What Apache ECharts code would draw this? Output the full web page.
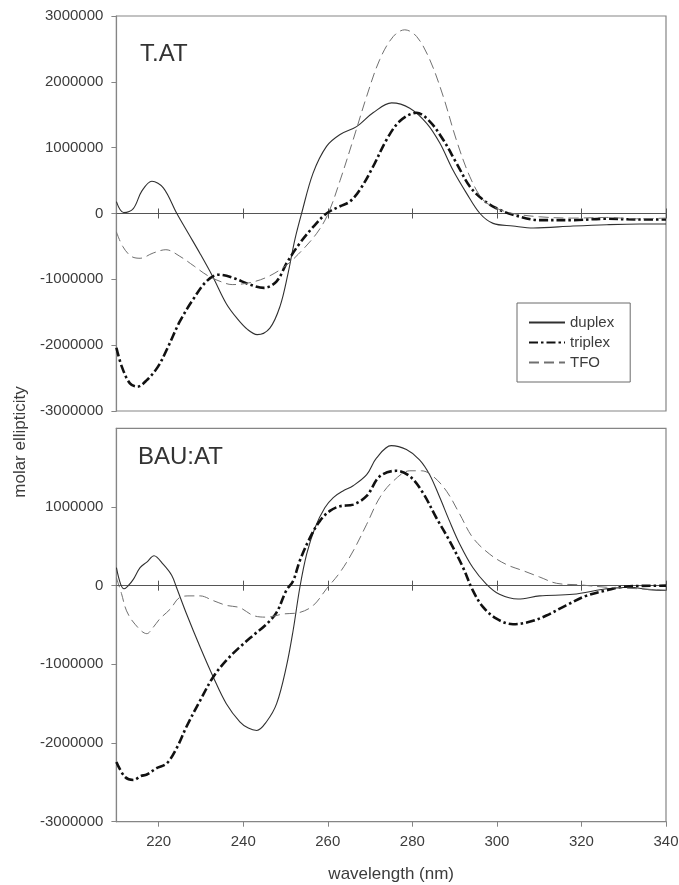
<!DOCTYPE html>
<html><head><meta charset="utf-8">
<script src="https://cdn.jsdelivr.net/npm/echarts@6/dist/echarts.min.js"></script>
<style>html,body{margin:0;padding:0;background:#fff}#c{width:679px;height:885px}</style>
</head><body><div id="c"></div>
<script>
// ---- data (wavelength nm, molar ellipticity) ----
const xTicks = [220, 240, 260, 280, 300, 320, 340];
const seriesNames = ['duplex', 'triplex', 'TFO'];
const panelTitles = ['T.AT', 'BAU:AT'];

const topDuplex = [[210,180000],[211.7,15000],[214,75000],[216,340000],[218.4,490000],[221.1,390000],[224.3,0],[227,-300000],[229.8,-610000],[232.8,-960000],[236,-1370000],[238.5,-1590000],[241,-1760000],[243.3,-1840000],[246.3,-1740000],[248.7,-1410000],[250.6,-910000],[252.2,-400000],[253.8,0],[256.5,610000],[259.7,1020000],[262.9,1200000],[266.8,1320000],[270.7,1530000],[275.1,1680000],[279.4,1600000],[283.4,1370000],[286.5,1070000],[289.6,660000],[292.8,310000],[296,0],[299.1,-150000],[303.8,-190000],[308.6,-220000],[318,-190000],[326,-170000],[333.8,-160000],[340,-160000]];
const topTriplex = [[210,-2040000],[211.3,-2330000],[213.2,-2580000],[215,-2630000],[217.2,-2530000],[219.8,-2330000],[221.9,-2070000],[225,-1640000],[228.2,-1300000],[231.3,-1030000],[234.1,-930000],[237.3,-970000],[241.6,-1080000],[244.9,-1130000],[247.9,-1030000],[250.3,-750000],[253.4,-450000],[256.6,-200000],[259.7,0],[262.9,110000],[265.2,180000],[267.6,360000],[270.7,710000],[273.9,1120000],[277,1400000],[281,1530000],[284.1,1400000],[287.3,1120000],[290.4,770000],[293.6,410000],[296.7,210000],[299.9,80000],[303.8,-20000],[310.1,-100000],[318,-100000],[325.9,-80000],[333,-90000],[340,-90000]];
const topTFO = [[210,-280000],[211.5,-500000],[213.5,-650000],[215.6,-680000],[218.7,-600000],[221.7,-550000],[225,-650000],[228.4,-800000],[231.5,-940000],[234.5,-1030000],[237.4,-1080000],[241.6,-1050000],[245.5,-970000],[249.5,-820000],[253,-620000],[257.4,-300000],[260.1,0],[262.9,500000],[266,1120000],[269.2,1780000],[272.3,2340000],[275.5,2690000],[278.2,2790000],[281,2690000],[284.1,2340000],[287.3,1780000],[290.4,1120000],[293.6,560000],[296.7,210000],[299.9,80000],[303.8,0],[310.1,-50000],[318,-70000],[326,-60000],[333,-80000],[340,-70000]];

const botDuplex = [[210,230000],[211,20000],[211.8,-40000],[212.8,0],[214,80000],[215.6,230000],[217.2,300000],[218.9,380000],[221.1,270000],[223.1,130000],[224.2,-20000],[226.6,-360000],[229.8,-780000],[232.9,-1160000],[236,-1500000],[239.2,-1730000],[241.2,-1810000],[243.2,-1840000],[245.5,-1730000],[247.9,-1500000],[250.2,-1030000],[251.8,-570000],[253.4,-20000],[255,400000],[257,740000],[259.3,990000],[261.3,1120000],[263.5,1200000],[266,1270000],[269.2,1410000],[271.5,1620000],[275,1780000],[278.6,1730000],[281.7,1600000],[284.1,1410000],[286.5,1120000],[288.8,820000],[291.2,530000],[294.3,230000],[297.5,20000],[300.6,-110000],[305,-170000],[310.1,-130000],[318,-110000],[325.9,-40000],[331.4,-20000],[336,-50000],[340,-60000]];
const botTriplex = [[210,-2240000],[212,-2430000],[214,-2470000],[215.8,-2420000],[217.2,-2400000],[219.5,-2320000],[221.9,-2260000],[224.2,-2070000],[226.6,-1790000],[229.8,-1460000],[232.9,-1160000],[236,-950000],[239.2,-780000],[242.4,-630000],[245.5,-490000],[247.9,-340000],[250.2,-60000],[251.8,60000],[253.4,320000],[255.8,610000],[258.1,820000],[260.5,950000],[262.9,1010000],[266,1030000],[269.2,1140000],[272.3,1390000],[276.2,1460000],[279.4,1390000],[282.5,1180000],[285.7,860000],[288.8,570000],[292,230000],[294.3,-60000],[296.7,-270000],[299.9,-420000],[303.8,-490000],[307.7,-460000],[311.7,-380000],[316.4,-250000],[321.1,-130000],[325.9,-60000],[330.6,-10000],[340,0]];
const botTFO = [[210,100000],[211.2,-100000],[212.4,-320000],[214.4,-490000],[217.2,-610000],[218.7,-530000],[220.3,-420000],[222.7,-300000],[225,-150000],[227.4,-130000],[229.8,-130000],[232.9,-190000],[236,-250000],[239.2,-280000],[242.4,-380000],[245.5,-400000],[249.5,-360000],[253.4,-340000],[256.6,-250000],[259.7,-40000],[262.9,170000],[266,440000],[269.2,780000],[272.3,1120000],[275.5,1330000],[279.4,1460000],[282.2,1460000],[284.9,1390000],[288.1,1200000],[291.2,910000],[294.3,610000],[298.3,400000],[302.2,270000],[306.2,190000],[310.1,110000],[314.1,30000],[319.6,10000],[325.9,-20000],[333.8,-40000],[340,-60000]];

// ---- styles ----
const FONT = 'Liberation Sans, Arial, sans-serif';
const TXT = '#3c3c3c';
const FRAME = '#858585';
const ZERO = '#555';
const styles = {
  duplex: {color: '#303030', width: 1.1, type: 'solid'},
  triplex: {color: '#111', width: 2.6, type: [9, 3, 2.5, 3]},
  TFO: {color: '#707070', width: 1, type: [10, 5]}
};

function mkSeries(name, data, xi, yi) {
  const s = styles[name];
  return {
    name, type: 'line', data, xAxisIndex: xi, yAxisIndex: yi,
    symbol: 'none', smooth: 0.35, animation: false, z: 5,
    lineStyle: {color: s.color, width: s.width, type: s.type},
    itemStyle: {color: s.color}
  };
}

const baseX = {
  type: 'value', min: 210, max: 340, splitLine: {show: false},
  axisLabel: {show: false}
};
function zeroAxis(grid, yIdx, pos, showLine) {
  return Object.assign({}, baseX, {
    gridIndex: grid, position: pos,
    axisLine: {show: showLine, onZero: true, onZeroAxisIndex: yIdx, lineStyle: {color: ZERO, width: 1.2}},
    axisTick: {show: true, length: 5, customValues: xTicks, lineStyle: {color: ZERO, width: 1}}
  });
}
function yAx(grid, min, max, showMax) {
  return {
    type: 'value', gridIndex: grid, min, max, interval: 1000000,
    splitLine: {show: false},
    axisLine: {show: true, onZero: false, lineStyle: {color: FRAME, width: 1.2}},
    axisTick: {show: true, length: 5, lineStyle: {color: FRAME}},
    axisLabel: {show: true, margin: 13, color: TXT, fontSize: 15, fontFamily: FONT,
      showMaxLabel: showMax, formatter: v => String(v)}
  };
}

const chart = echarts.init(document.getElementById('c'), null, {renderer: 'canvas'});
chart.setOption({
  animation: false,
  backgroundColor: '#fff',
  grid: [
    {left: 116.4, top: 16, width: 549.6, height: 395, show: true, borderColor: FRAME, borderWidth: 1.2, containLabel: false, outerBoundsMode: 'none'},
    {left: 116.4, top: 428.3, width: 549.6, height: 393.4, show: true, borderColor: FRAME, borderWidth: 1.2, containLabel: false, outerBoundsMode: 'none'}
  ],
  xAxis: [
    zeroAxis(0, 0, 'bottom', true),
    zeroAxis(0, 0, 'top', false),
    Object.assign({}, baseX, {
      gridIndex: 1, position: 'bottom',
      axisLine: {show: true, onZero: false, lineStyle: {color: FRAME, width: 1.2}},
      axisTick: {show: true, length: 5, customValues: xTicks, lineStyle: {color: FRAME}},
      axisLabel: {show: true, customValues: xTicks, margin: 13, color: TXT, fontSize: 15, fontFamily: FONT},
      name: 'wavelength (nm)', nameLocation: 'middle', nameGap: 44,
      nameTextStyle: {color: TXT, fontSize: 17, fontFamily: FONT}
    }),
    zeroAxis(1, 1, 'bottom', true),
    zeroAxis(1, 1, 'top', false)
  ],
  yAxis: [yAx(0, -3000000, 3000000, true), yAx(1, -3000000, 2000000, false)],
  legend: {
    data: seriesNames, orient: 'vertical', left: 517, top: 303,
    itemWidth: 36, itemHeight: 14, itemGap: 5,
    padding: [12, 16, 12, 11],
    borderColor: '#6a6a6a', borderWidth: 1,
    selectedMode: false,
    itemStyle: {opacity: 0},
    textStyle: {color: TXT, fontSize: 15, fontFamily: FONT}
  },
  graphic: [
    {type: 'text', left: 140, top: 42, style: {text: panelTitles[0], fontSize: 24, fontFamily: FONT, fill: '#333'}},
    {type: 'text', left: 138, top: 445, style: {text: panelTitles[1], fontSize: 24, fontFamily: FONT, fill: '#333'}},
    {type: 'text', x: 20, y: 442, rotation: Math.PI / 2,
      style: {text: 'molar ellipticity', fontSize: 17, fontFamily: FONT, fill: TXT, align: 'center', verticalAlign: 'middle'}}
  ],
  series: [
    mkSeries('duplex', topDuplex, 0, 0),
    mkSeries('triplex', topTriplex, 0, 0),
    mkSeries('TFO', topTFO, 0, 0),
    mkSeries('duplex', botDuplex, 2, 1),
    mkSeries('triplex', botTriplex, 2, 1),
    mkSeries('TFO', botTFO, 2, 1)
  ]
});
</script></body></html>
